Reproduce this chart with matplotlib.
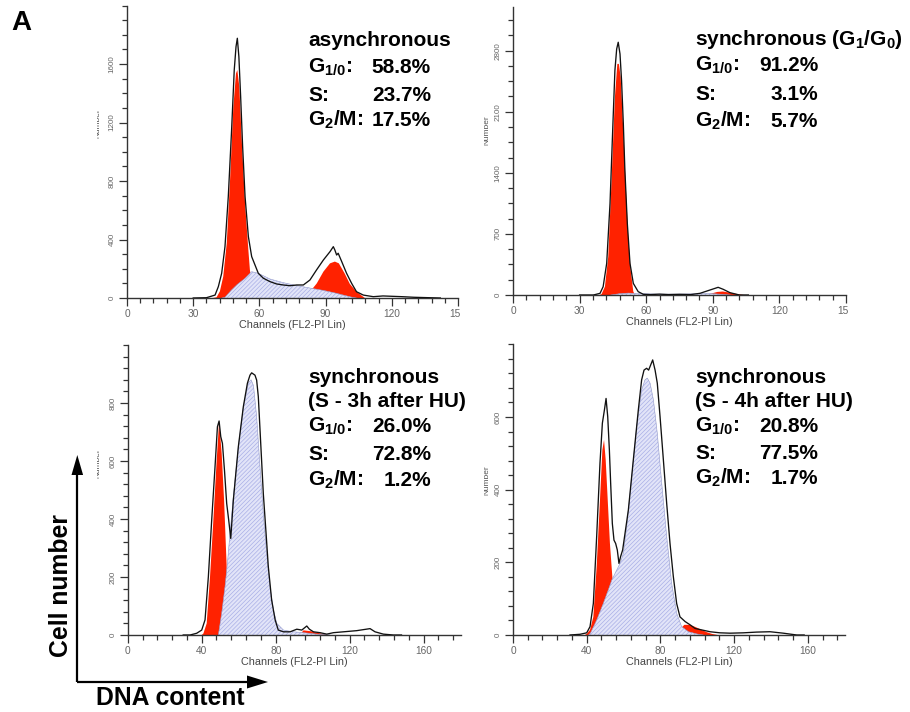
import matplotlib
matplotlib.use("Agg")
import matplotlib.pyplot as plt
from matplotlib.ticker import MultipleLocator, FixedLocator
from matplotlib.patches import Rectangle, Polygon

plt.rcParams['font.family'] = ['Liberation Sans', 'DejaVu Sans']
plt.rcParams['mathtext.fontset'] = 'custom'
plt.rcParams['mathtext.rm'] = 'Liberation Sans:bold'
plt.rcParams['mathtext.bf'] = 'Liberation Sans:bold'
plt.rcParams['mathtext.it'] = 'Liberation Sans:bold'
plt.rcParams['mathtext.sf'] = 'Liberation Sans:bold'
plt.rcParams['mathtext.default'] = 'rm'
plt.rcParams['hatch.color'] = '#a9afe6'
plt.rcParams['hatch.linewidth'] = 0.5

# ---------------- data ----------------
# Panel 1: asynchronous
p1_tot_ch = [30, 36, 39.9, 41.4, 42.9, 44.4, 45.9, 47.4, 48.6, 49.4, 50, 50.7, 51.5, 52.4, 53.5, 55, 56.5, 58,
             59.5, 61.8, 64.8, 67.8, 70.8, 73.9, 76.9, 79.9, 82.9, 85.9, 89, 92, 93.5, 94.2, 95, 95.7, 97.3,
             99.5, 101.8, 104, 107.1, 111.6, 116, 124.7, 130, 137, 142]
p1_tot = [0, 2, 20, 78, 169, 351, 693, 1149, 1559, 1718, 1776, 1650, 1377, 1035, 693, 420, 283, 226,
          169, 135, 112, 96, 89, 84, 89, 89, 123, 192, 260, 317, 351, 328, 294, 306, 249,
          169, 100, 43, 20, 9, 14, 9, 5, 2, 0]
p1_g1_ch = [39, 40.6, 42.1, 43.6, 45.2, 46.7, 48.2, 49.4, 50, 50.9, 52, 53.5, 55, 55.7, 57.2, 58.7, 60]
p1_g1 = [0, 5, 46, 146, 374, 807, 1308, 1536, 1559, 1445, 1080, 647, 328, 191, 55, 10, 0]
p1_s_ch = [43, 44.4, 47.4, 50, 53.5, 56.5, 59.5, 64.8, 70.8, 76.9, 82.9, 89, 95, 98, 101.8, 104]
p1_s = [0, 5, 55, 93, 135, 180, 169, 130, 105, 85, 68, 52, 32, 20, 6, 0]
p1_g2_ch = [78, 80, 82, 84.4, 86, 89, 92, 94.2, 96, 98.6, 101, 104, 107.8]
p1_g2 = [0, 15, 40, 70, 100, 180, 237, 249, 237, 169, 96, 43, 0]

# Panel 2: synchronous (G1/G0)
p2_tot_ch = [30, 36.2, 39.2, 40.6, 42.2, 43.7, 44.9, 45.9, 46.7, 47.4, 48.2, 48.9, 49.7, 50.4, 51.5, 52.7,
             54.2, 56.4, 58.7, 62, 66, 70, 75, 80, 84.2, 88.7, 92.4, 94.7, 97.7, 102, 106]
p2_tot = [0, 0, 19, 95, 362, 1048, 1886, 2572, 2819, 2896, 2762, 2457, 1962, 1429, 819, 362,
          133, 38, 8, 5, 10, 5, 8, 5, 19, 57, 88, 65, 27, 0, 0]
p2_g1_ch = [39, 39.9, 41.4, 42.9, 44.4, 45.9, 47, 47.7, 48.5, 49.7, 50.9, 51.9, 53, 54.2, 55]
p2_g1 = [0, 10, 95, 438, 1315, 2267, 2648, 2648, 2496, 1886, 1200, 667, 286, 38, 0]
p2_s_ch = [44, 48, 52, 58, 66, 74, 82, 88, 94, 98]
p2_s = [0, 15, 22, 15, 10, 10, 14, 18, 8, 0]
p2_g2_ch = [86, 89, 92, 94.5, 97, 100, 104]
p2_g2 = [0, 15, 35, 40, 30, 15, 0]

# Panel 3: synchronous (S - 3h after HU)
p3_tot_ch = [30, 33.7, 37.3, 40, 41.8, 43.6, 45.4, 47.2, 48.5, 49.4, 50.3, 51.2, 52.3, 53.5, 54.6, 55.7,
             57.1, 59.8, 62.5, 64.7, 66.1, 67, 68.8, 69.7, 70.6, 71.9, 73.3, 74.8, 76, 77.8, 79.7, 81.4,
             84.2, 87.8, 91.4, 94.1, 96.8, 98.2, 100.4, 104, 107.6, 111.2, 116.6, 123.8, 131, 133.7,
             138.2, 143.6, 148]
p3_tot = [0, 0, 6, 17, 52, 201, 396, 580, 718, 738, 684, 661, 569, 454, 396, 333,
          465, 649, 787, 868, 896, 904, 896, 879, 822, 661, 488, 350, 236, 121, 52, 17,
          11, 11, 20, 17, 31, 20, 11, 8, 3, 8, 11, 15, 22, 11,
          3, 0, 0]
p3_g1_ch = [40, 40.9, 42.7, 44.5, 46.3, 48.1, 49.4, 50.8, 52.1, 53.5, 54.4, 55.7, 56.8]
p3_g1 = [0, 5, 40, 201, 396, 603, 735, 626, 465, 236, 121, 29, 0]
p3_s_ch = [49, 50.8, 52.6, 53.9, 55.3, 57.1, 59.8, 62.5, 65.2, 66.7, 68, 69.7, 71.5, 73.3, 75.1, 76.9,
           78.8, 80.6, 84.2, 89.6, 95, 102.2, 109.4]
p3_s = [0, 75, 167, 247, 350, 477, 649, 787, 870, 880, 860, 753, 580, 419, 282, 167,
        86, 40, 17, 11, 8, 3, 0]
p3_g2_ch = [93, 95, 99, 103, 108]
p3_g2 = [0, 16, 13, 7, 0]

# Panel 4: synchronous (S - 4h after HU)
p4_tot_ch = [30.9, 36.4, 40, 41.8, 43.6, 45.4, 47.2, 48.5, 49.6, 50.5, 51.4, 52.3, 53, 53.9, 54.8, 55.7,
             56.6, 57.5, 58.4, 59.5, 62.6, 65.3, 68, 69.8, 71.1, 72.5, 73.6, 74.7, 75.8, 77.1, 78.3,
             79.8, 81.6, 83.4, 85.2, 87, 88.8, 90.6, 93.4, 96.1, 98.8, 102.4, 106.9, 112.3, 117.8,
             125, 132.2, 139.5, 146.7, 154, 158]
p4_tot = [0, 2, 6, 23, 87, 271, 473, 583, 619, 651, 601, 509, 417, 307, 261, 252,
          234, 197, 216, 234, 344, 482, 619, 702, 729, 734, 729, 743, 757, 729, 693,
          601, 482, 362, 252, 161, 87, 50, 37, 28, 18, 14, 9, 6, 5,
          6, 8, 9, 5, 0, 0]
p4_g1_ch = [39, 40, 41.8, 43.6, 45.4, 47.2, 48.5, 49.4, 50.3, 51.4, 52.6, 53.9, 55.4, 57.2, 59]
p4_g1 = [0, 3, 14, 50, 188, 372, 509, 537, 482, 372, 252, 161, 87, 23, 0]
p4_s_ch = [41, 42, 45.4, 49, 51.7, 53.6, 56.3, 58.1, 59.9, 61.7, 64.4, 67.1, 69.8, 71.6, 72.9, 74.4,
           76.2, 78.3, 80.7, 83.4, 86.1, 88.8, 91.5, 95.2, 99.7, 103.3]
p4_s = [0, 5, 41, 87, 124, 151, 179, 197, 225, 298, 436, 574, 674, 702, 707, 693,
        647, 555, 418, 271, 142, 60, 23, 9, 3, 0]
p4_g2_ch = [89, 91, 93, 96, 99, 102, 105, 108, 111]
p4_g2 = [0, 18, 28, 28, 22, 15, 8, 3, 0]

# tick labels
p1_yticks = [0, 400, 800, 1200, 1600]
p2_yticks = [0, 700, 1400, 2100, 2800]
p3_yticks = [0, 200, 400, 600, 800]
p4_yticks = [0, 200, 400, 600]

# annotation texts
p1_title = ['asynchronous']
p2_title = ['synchronous (G$_{1}$/G$_{0}$)']
p3_title = ['synchronous', '(S - 3h after HU)']
p4_title = ['synchronous', '(S - 4h after HU)']
phase_labels = ['G$_{1/0}$:', 'S:', 'G$_{2}$/M:']
p1_pct = ['58.8%', '23.7%', '17.5%']
p2_pct = ['91.2%', '3.1%', '5.7%']
p3_pct = ['26.0%', '72.8%', '1.2%']
p4_pct = ['20.8%', '77.5%', '1.7%']

# ---------------- figure ----------------
W, H = 910, 712
fig = plt.figure(figsize=(W / 100, H / 100), dpi=100)

RED = '#ff2200'
SFACE = '#e2e4f8'
SHATCH = '#a9afe6'


def add_ax(left, right, top, bottom):
    return fig.add_axes([left / W, (H - bottom) / H, (right - left) / W, (bottom - top) / H])


panels = [
    dict(rect=(127, 458, 5.5, 298), xmax=150, ymax=2000, xmaj=30, xmin=6, ymin=100, yt=p1_yticks,
         tot=(p1_tot_ch, p1_tot), g1=(p1_g1_ch, p1_g1), s=(p1_s_ch, p1_s), g2=(p1_g2_ch, p1_g2)),
    dict(rect=(513, 846, 7, 295), xmax=150, ymax=3300, xmaj=30, xmin=6, ymin=175, yt=p2_yticks,
         tot=(p2_tot_ch, p2_tot), g1=(p2_g1_ch, p2_g1), s=(p2_s_ch, p2_s), g2=(p2_g2_ch, p2_g2)),
    dict(rect=(127.7, 460.7, 345, 635), xmax=180, ymax=1000, xmaj=40, xmin=8, ymin=40, yt=p3_yticks,
         tot=(p3_tot_ch, p3_tot), g1=(p3_g1_ch, p3_g1), s=(p3_s_ch, p3_s), g2=(p3_g2_ch, p3_g2)),
    dict(rect=(513, 844.7, 344.3, 635), xmax=180, ymax=800, xmaj=40, xmin=8, ymin=40, yt=p4_yticks,
         tot=(p4_tot_ch, p4_tot), g1=(p4_g1_ch, p4_g1), s=(p4_s_ch, p4_s), g2=(p4_g2_ch, p4_g2)),
]

for p in panels:
    ax = add_ax(*p['rect'])
    ax.patch.set_alpha(0)
    ax.fill_between(p['g1'][0], 0, p['g1'][1], facecolor=RED, edgecolor='none', lw=0, zorder=1)
    ax.fill_between(p['g2'][0], 0, p['g2'][1], facecolor=RED, edgecolor='none', lw=0, zorder=1)
    ax.fill_between(p['s'][0], 0, p['s'][1], facecolor=SFACE, edgecolor=SHATCH, hatch='////////',
                    lw=0, zorder=2)
    ax.plot(p['s'][0], p['s'][1], color='#9097c8', lw=0.4, zorder=2.5)
    ax.plot(p['tot'][0], p['tot'][1], color='#111111', lw=0.95, zorder=3)
    ax.set_xlim(0, p['xmax'])
    ax.set_ylim(0, p['ymax'])
    for sname in ['top', 'right']:
        ax.spines[sname].set_visible(False)
    for sname in ['left', 'bottom']:
        ax.spines[sname].set_color('#333333')
        ax.spines[sname].set_linewidth(1.0)
    ax.xaxis.set_major_locator(MultipleLocator(p['xmaj']))
    ax.xaxis.set_minor_locator(MultipleLocator(p['xmin']))
    ax.yaxis.set_major_locator(FixedLocator(p['yt']))
    ax.yaxis.set_minor_locator(MultipleLocator(p['ymin']))
    ax.tick_params(which='major', direction='out', length=5.5, width=0.9, color='#333333')
    ax.tick_params(which='minor', direction='out', length=3.3, width=0.9, color='#333333')
    ax.tick_params(axis='x', labelsize=7.3, labelcolor='#666666', pad=2.5)
    ax.tick_params(axis='y', labelsize=5.8, labelcolor='#666666', pad=2.5, labelrotation=90)
    for lbl in ax.get_yticklabels():
        lbl.set_va('center')
    ax.set_xlabel('Channels (FL2-PI Lin)', fontsize=7.8, color='#444444', labelpad=0.5)

# overlay in pixel coordinates
ov = fig.add_axes([0, 0, 1, 1])
ov.set_xlim(0, W)
ov.set_ylim(H, 0)
ov.axis('off')
ov.patch.set_alpha(0)

FS = 15
BOLD = dict(fontsize=FS, fontweight='bold', color='black', va='baseline')


def block(x_left, x_right, title_lines, title_base, pct, base):
    y = title_base
    for t in title_lines:
        ov.text(x_left, y, t, ha='left', **BOLD)
        y += 24
    for lab, val, yb in zip(phase_labels, pct, base):
        ov.text(x_left, yb, lab, ha='left', **BOLD)
        ov.text(x_right, yb, val, ha='right', **BOLD)


block(308, 431, p1_title, 46, p1_pct, [73, 101, 126])
block(695, 818, p2_title, 45, p2_pct, [71, 100, 127])
block(308, 431, p3_title, 383, p3_pct, [432, 460, 486])
block(695, 818, p4_title, 383, p4_pct, [432, 459, 484])

# clipped "Number" axis labels
for (xr, yc, x0c) in [(101.5, 123, 96.5), (490.5, 130, 483.5), (101.5, 463, 96.5), (490.5, 480, 483.5)]:
    ov.text(xr, yc, 'Number', rotation=90, ha='right', va='center', fontsize=6, color='#555555', zorder=1)
    ov.add_patch(Rectangle((x0c - 14, yc - 30), 14, 60, facecolor='white', edgecolor='none', zorder=5))

# clipped "150" labels at right edge
ov.add_patch(Rectangle((460, 302), 14, 18, facecolor='white', edgecolor='none', zorder=5))
ov.add_patch(Rectangle((848, 302), 20, 18, facecolor='white', edgecolor='none', zorder=5))

# panel letter
ov.text(11, 30, 'A', fontsize=20, fontweight='bold', ha='left', va='baseline')

# axis arrows
ov.plot([77.3, 77.3], [682, 472], color='black', lw=1.6, solid_capstyle='butt')
ov.plot([76.5, 250], [682, 682], color='black', lw=1.6, solid_capstyle='butt')
ov.add_patch(Polygon([[77.3, 455], [71.5, 475], [83.1, 475]], closed=True, facecolor='black', edgecolor='none'))
ov.add_patch(Polygon([[268, 682], [247, 675.5], [247, 688.5]], closed=True, facecolor='black', edgecolor='none'))
ov.text(61, 586, 'Cell number', rotation=90, fontsize=17.8, fontweight='bold', ha='center', va='center')
ov.text(170, 698, 'DNA content', fontsize=17.8, fontweight='bold', ha='center', va='center')

fig.savefig('out.png', dpi=100)
